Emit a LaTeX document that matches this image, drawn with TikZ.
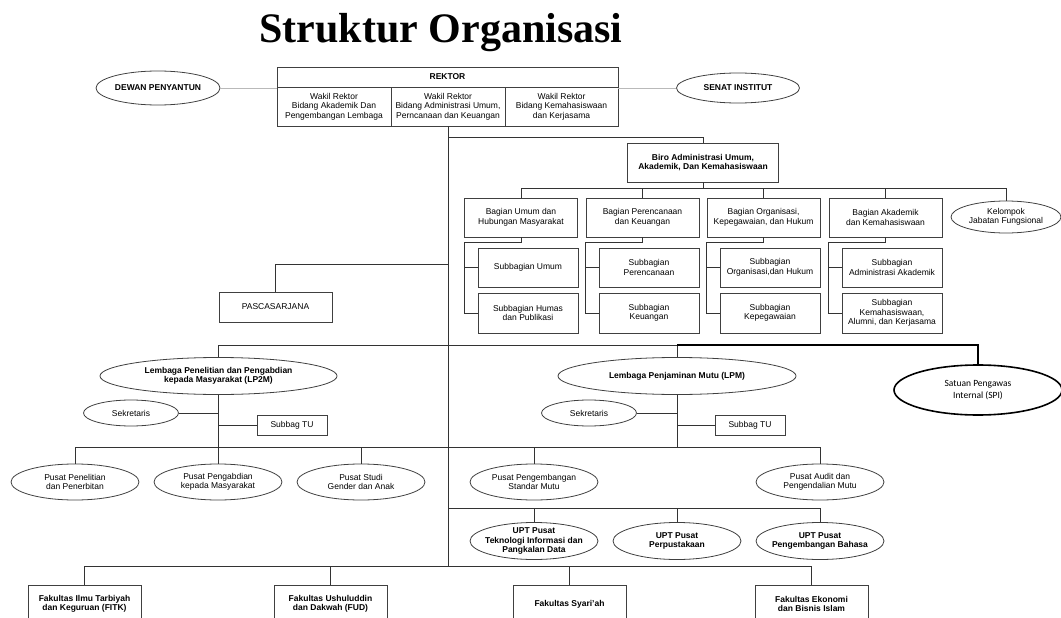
\documentclass[tikz,border=0pt]{standalone}
\usepackage{fontspec}
\setmainfont{Liberation Sans}
\newfontfamily\titlefont{Liberation Serif}
\newfontfamily\spifont{Carlito}
\usetikzlibrary{shapes.geometric}
\newcommand{\orgfont}{\fontsize{8.5}{9.5}\selectfont}

\begin{document}
\begin{tikzpicture}[
    x=1pt, y=-1pt,
    org line/.style={draw=black!80, line width=0.8pt},
    side line/.style={draw=gray!55, line width=0.9pt},
    spi line/.style={draw=black, line width=2.6pt},
    box size/.style 2 args={minimum width=#1, minimum height=#2},
    unit box/.style={draw=black!75, line width=0.8pt, rectangle, align=center, inner sep=1pt, font=\orgfont},
    bold box/.style={unit box, font=\orgfont\bfseries},
    unit oval/.style={draw=black!75, line width=0.8pt, ellipse, align=center, inner sep=0pt, font=\orgfont},
    bold oval/.style={unit oval, font=\orgfont\bfseries},
    spi oval/.style={draw=black, line width=1.6pt, ellipse, align=center, inner sep=0pt, font=\spifont\fontsize{9.5}{12}\selectfont}
]
\useasboundingbox (0,0) rectangle (1061,618);
\clip (0,0) rectangle (1061,618);

% Title
\node[font=\titlefont\bfseries\fontsize{42}{42}\selectfont, anchor=base] (title) at (441,43) {Struktur Organisasi};

% Rektor and wakil rektor
\node[bold box, box size={341}{20}] (rektor) at (447.5,77) {REKTOR};
\node[unit box, box size={114}{39}] (wr1) at (334,106.5) {Wakil Rektor\\Bidang Akademik Dan\\Pengembangan Lembaga};
\node[unit box, box size={114}{39}] (wr2) at (448,106.5) {Wakil Rektor\\Bidang Administrasi Umum,\\Perncanaan dan Keuangan};
\node[unit box, box size={113}{39}] (wr3) at (561.5,106.5) {Wakil Rektor\\Bidang Kemahasiswaan\\dan Kerjasama};

\node[bold oval, box size={124}{34}] (dewan) at (158,88) {DEWAN PENYANTUN};
\node[bold oval, box size={123}{30}] (senat) at (738,88) {SENAT INSTITUT};
\draw[side line] (dewan) -- (dewan -| rektor.west);
\draw[side line] (senat) -- (senat -| rektor.east);

% Trunk
\coordinate (jbiro) at (448,137);
\coordinate (jpasca) at (448,264);
\coordinate (lbus) at (448,345);
\coordinate (pbus) at (448,447);
\coordinate (ubus) at (448,508);
\coordinate (fbus) at (448,566);
\draw[org line] (wr2.south) -- (fbus);

% Biro and bagian
\node[bold box, box size={151}{39}] (biro) at (703,162.5) {Biro Administrasi Umum,\\Akademik, Dan Kemahasiswaan};
\draw[org line] (jbiro) -| (biro.north);
\coordinate (bbus) at (703,188);
\draw[org line] (biro.south) -- (bbus);

\foreach \name/\x/\txt in {
    bag1/521/{Bagian Umum dan\\Hubungan Masyarakat},
    bag2/642.5/{Bagian Perencanaan\\dan Keuangan},
    bag3/763.5/{Bagian Organisasi,\\Kepegawaian, dan Hukum},
    bag4/885.5/{Bagian Akademik\\dan Kemahasiswaan}} {
    \node[unit box, box size={113}{39}] (\name) at (\x,217.5) {\txt};
}
\node[unit oval, box size={110}{32}] (kelompok) at (1006,217) {Kelompok\\Jabatan Fungsional};
\foreach \b in {bag1,bag2,bag3,bag4,kelompok} {
    \draw[org line] (bbus) -| (\b.north);
}

% Subbagian
\foreach \i/\x/\ta/\tb in {
    1/528/{Subbagian Umum}/{Subbagian Humas\\dan Publikasi},
    2/649/{Subbagian\\Perencanaan}/{Subbagian\\Keuangan},
    3/770/{Subbagian\\Organisasi,dan Hukum}/{Subbagian\\Kepegawaian},
    4/892/{Subbagian\\Administrasi Akademik}/{Subbagian\\Kemahasiswaan,\\Alumni, dan Kerjasama}} {
    \node[unit box, box size={100}{39}] (sa\i) at (\x,267.5) {\ta};
    \node[unit box, box size={100}{40}] (sb\i) at (\x,313) {\tb};
    \draw[org line] (bag\i.south) -- ++(0,5) -| (bag\i.west |- sb\i.west) -- (sb\i.west);
    \draw[org line] (bag\i.west |- sa\i.west) -- (sa\i.west);
}

% Pascasarjana
\node[unit box, box size={113}{30}] (pasca) at (275.5,307) {PASCASARJANA};
\draw[org line] (jpasca) -| (pasca.north);

% Lembaga and SPI
\node[bold oval, box size={237}{37}] (lp2m) at (218.5,376) {Lembaga Penelitian dan Pengabdian\\kepada Masyarakat (LP2M)};
\node[bold oval, box size={238}{37}] (lpm) at (677,376) {Lembaga Penjaminan Mutu (LPM)};
\node[spi oval, box size={168}{50}] (spi) at (978,390) {Satuan Pengawas\\Internal (SPI)};
\draw[org line] (lbus) -| (lp2m.north);
\draw[org line] (lbus) -| (lpm.north);
\draw[spi line] (lpm.north |- lbus) -| (spi.north);

\foreach \l/\sx/\tx in {lp2m/131/292, lpm/589/750} {
    \node[unit oval, box size={95}{26}] (sek-\l) at (\sx,413) {Sekretaris};
    \node[unit box, box size={70}{20}] (tu-\l) at (\tx,425) {Subbag TU};
    \draw[org line] (sek-\l) -- (sek-\l -| \l);
    \draw[org line] (tu-\l) -- (tu-\l -| \l);
    \draw[org line] (\l.south) -- (\l.south |- pbus);
}

% Pusat
\foreach \name/\x/\txt in {
    pp1/75/{Pusat Penelitian\\dan Penerbitan},
    pp2/218/{Pusat Pengabdian\\kepada Masyarakat},
    pp3/361/{Pusat Studi\\Gender dan Anak},
    pm1/534/{Pusat Pengembangan\\Standar Mutu},
    pm2/820/{Pusat Audit dan\\Pengendalian Mutu}} {
    \node[unit oval, box size={128}{36}] (\name) at (\x,482) {\txt};
    \draw[org line] (pbus) -| (\name.north);
}

% UPT
\foreach \name/\x/\txt in {
    upt1/534/{UPT Pusat\\Teknologi Informasi dan\\Pangkalan Data},
    upt2/677/{UPT Pusat\\Perpustakaan},
    upt3/820/{UPT Pusat\\Pengembangan Bahasa}} {
    \node[bold oval, box size={128}{37}, inner xsep=-6pt, inner ysep=-3pt] (\name) at (\x,541) {\txt};
    \draw[org line] (ubus) -| (\name.north);
}

% Fakultas
\foreach \name/\x/\txt in {
    fk1/84.5/{Fakultas Ilmu Tarbiyah\\dan Keguruan (FITK)},
    fk2/330.5/{Fakultas Ushuluddin\\dan Dakwah (FUD)},
    fk3/569.5/{Fakultas Syari'ah},
    fk4/811.5/{Fakultas Ekonomi\\dan Bisnis Islam}} {
    \node[bold box, box size={113}{38}] (\name) at (\x,604) {\txt};
    \draw[org line] (fbus) -| (\name.north);
}
\end{tikzpicture}
\end{document}
